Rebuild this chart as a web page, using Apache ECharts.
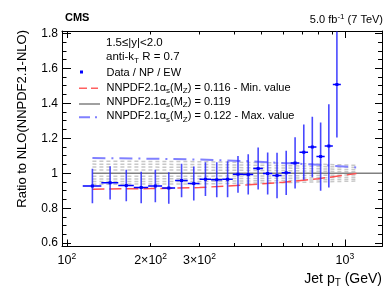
<!DOCTYPE html>
<html><head><meta charset="utf-8">
<script src="https://cdn.jsdelivr.net/npm/echarts@6/dist/echarts.min.js"></script>
<style>html,body{margin:0;padding:0;background:#fff}#c{width:390px;height:302px}</style>
</head><body><div id="c"></div>
<script>
// ---- data ----
const binLo = [114,133,153,174,196,220,245,272,300,330,362,395,430,468,507,548,592,638,686,737,790,846,905];
const binHi = [133,153,174,196,220,245,272,300,330,362,395,430,468,507,548,592,638,686,737,790,846,905,967];
const dataRatio = [0.927,0.945,0.930,0.918,0.927,0.916,0.958,0.941,0.966,0.962,0.966,0.994,0.993,1.027,0.998,0.987,1.002,1.059,1.120,1.150,1.095,1.156,1.507];
const dataErr = [0.099,0.095,0.090,0.090,0.093,0.090,0.096,0.097,0.097,0.100,0.103,0.105,0.115,0.120,0.120,0.130,0.126,0.146,0.158,0.173,0.195,0.238,0.303];

const thPt = [123.5,200,300,450,600,800,1100];
const thMin = [0.909,0.912,0.918,0.934,0.948,0.968,0.998];   // alpha_s = 0.116
const thMax = [1.087,1.083,1.078,1.069,1.058,1.049,1.033];   // alpha_s = 0.122
const thCentralPt = [123.5,1360];
const thCentral = [1.0,1.0];                                 // alpha_s = 0.119
const thGreyPt = [123.5,300,600,1100];
const thG1 = [1.069,1.066,1.058,1.045];
const thG2 = [1.052,1.050,1.044,1.033];
const thG3 = [1.036,1.034,1.030,1.020];
const thG4 = [1.019,1.018,1.015,1.008];
const thG5 = [0.983,0.983,0.985,0.990];
const thG6 = [0.967,0.968,0.971,0.977];
const thG7 = [0.952,0.953,0.958,0.966];
const thG8 = [0.937,0.939,0.946,0.955];

const xLabelVals = [100,200,300,1000];
const xLabelText = ['{n|10}{sup|2}','{n|2×10}{sup|2}','{n|3×10}{sup|2}','{n|10}{sup|3}'];
const xMajorTicks = [100,1000];
const xMinorTicks = [200,300,400,500,600,700,800,900];
const yMajorTicks = [0.6,0.8,1.0,1.2,1.4,1.6,1.8];
const yMinorTicks = [0.65,0.7,0.75,0.85,0.9,0.95,1.05,1.1,1.15,1.25,1.3,1.35,1.45,1.5,1.55,1.65,1.7,1.75];

// ---- chart ----
const L = Math.log10;
const FONT = 'Liberation Sans';
const X_MIN = 96, X_MAX = 1360, Y_MIN = 0.581, Y_MAX = 1.813;
const chart = echarts.init(document.getElementById('c'), null, {renderer:'canvas'});

function xa(pos, ticks, len, extra) {
  return Object.assign({
    type:'value', position:pos, min:L(X_MIN), max:L(X_MAX),
    axisLine:{show:false}, splitLine:{show:false}, axisLabel:{show:false},
    axisTick:{show:true, inside:true, length:len, customValues:ticks.map(L), lineStyle:{color:'#000', width:1}}
  }, extra || {});
}
function ya(pos, ticks, len, extra) {
  return Object.assign({
    type:'value', position:pos, min:Y_MIN, max:Y_MAX,
    axisLine:{show:false}, splitLine:{show:false}, axisLabel:{show:false},
    axisTick:{show:true, inside:true, length:len, customValues:ticks, lineStyle:{color:'#000', width:1}}
  }, extra || {});
}
const lineBlack = {show:true, onZero:false, lineStyle:{color:'#000', width:1}};

const xAxes = [
  xa('bottom', xMajorTicks, 7, {axisLine:lineBlack, axisLabel:{
    show:true, customValues:xLabelVals.map(L), margin:6, color:'#000',
    formatter:(v)=>{let b=0,d=1e9;xLabelVals.forEach((p,i)=>{const dd=Math.abs(L(p)-v);if(dd<d){d=dd;b=i;}});return xLabelText[b];},
    rich:{n:{fontFamily:FONT,fontSize:12.5,color:'#000'}, sup:{fontFamily:FONT,fontSize:8.5,color:'#000',padding:[0,0,8,0]}}
  }}),
  xa('bottom', xMinorTicks, 3.5),
  xa('top', xMajorTicks, 7, {axisLine:lineBlack}),
  xa('top', xMinorTicks, 3.5)
];
const yAxes = [
  ya('left', yMajorTicks, 9, {axisLine:lineBlack, axisLabel:{
    show:true, customValues:yMajorTicks, margin:4, color:'#000', fontFamily:FONT, fontSize:12,
    formatter:(v)=> Math.abs(v-1)<1e-6 ? '1' : v.toFixed(1)
  }}),
  ya('left', yMinorTicks, 4.5),
  ya('right', yMajorTicks, 7, {axisLine:lineBlack}),
  ya('right', yMinorTicks, 4)
];

function lineSeries(pts, vals, color, width, type, z) {
  return {type:'line', xAxisIndex:0, yAxisIndex:0, data:pts.map((p,i)=>[L(p), vals[i]]),
    symbol:'none', silent:true, z:z, lineStyle:{color:color, width:width, type:type}};
}
const greyDash = [4,3];
const series = [
  lineSeries(thGreyPt, thG1, '#c8c8c8', 1.5, greyDash, 1),
  lineSeries(thGreyPt, thG2, '#c8c8c8', 1.5, greyDash, 1),
  lineSeries(thGreyPt, thG3, '#c8c8c8', 1.5, greyDash, 1),
  lineSeries(thGreyPt, thG4, '#c8c8c8', 1.5, greyDash, 1),
  lineSeries(thGreyPt, thG5, '#c8c8c8', 1.5, greyDash, 1),
  lineSeries(thGreyPt, thG6, '#c8c8c8', 1.5, greyDash, 1),
  lineSeries(thGreyPt, thG7, '#c8c8c8', 1.5, greyDash, 1),
  lineSeries(thGreyPt, thG8, '#c8c8c8', 1.5, greyDash, 1),
  lineSeries(thCentralPt, thCentral, '#808080', 1.5, 'solid', 2),
  lineSeries(thPt, thMin, '#ff5050', 1.5, [12,5], 2),
  lineSeries(thPt, thMax, '#8080ff', 2, [13,6,2,6], 2),
  {
    type:'custom', xAxisIndex:0, yAxisIndex:0, z:5, clip:true, silent:true,
    data: dataRatio.map((r,i)=>[L((binLo[i]+binHi[i])/2), r, dataErr[i], L(binLo[i]), L(binHi[i])]),
    renderItem:(params, api)=>{
      const x=api.value(0), y=api.value(1), e=api.value(2), lo=api.value(3), hi=api.value(4);
      const c=api.coord([x,y]), t=api.coord([x,y+e]), b=api.coord([x,y-e]);
      const l=api.coord([lo,y]), h=api.coord([hi,y]);
      return {type:'group', children:[
        {type:'line', shape:{x1:t[0],y1:t[1],x2:b[0],y2:b[1]}, style:{stroke:'rgba(40,40,255,0.85)', lineWidth:1.6}},
        {type:'line', shape:{x1:l[0],y1:l[1],x2:h[0],y2:h[1]}, style:{stroke:'#0000ff', lineWidth:1.5}},
        {type:'rect', shape:{x:c[0]-1.5,y:c[1]-1.5,width:3,height:3}, style:{fill:'#0000ff'}}
      ]};
    }
  }
];

const richSub = {
  n:{fontFamily:FONT,fontSize:11,color:'#000'},
  sub:{fontFamily:FONT,fontSize:8,color:'#000',padding:[7,0,0,0]},
  sup:{fontFamily:FONT,fontSize:8,color:'#000',padding:[0,0,7,0]}
};
function txt(x,y,text,extra){
  return {type:'text', x:x, y:y, silent:true, z:10,
    style:Object.assign({text:text, fill:'#000', font:'11px '+FONT, verticalAlign:'middle', align:'left', rich:richSub}, extra||{})};
}
const graphic = [
  txt(65,18,'CMS',{font:'bold 11px '+FONT}),
  txt(383,20,'{n|5.0 fb}{sup|-1}{n| (7 TeV)}',{align:'right'}),
  txt(106,43,'1.5≤|y|<2.0',{font:'11.5px '+FONT}),
  txt(106,57,'{m|anti-k}{msub|T}{m| R = 0.7}',{rich:{m:{fontFamily:FONT,fontSize:11.5,color:'#000'},msub:{fontFamily:FONT,fontSize:8,color:'#000',padding:[7,0,0,0]}}}),
  {type:'rect', shape:{x:80,y:70.5,width:3,height:3}, style:{fill:'#0000ff'}, silent:true, z:10},
  txt(106.5,72.5,'Data / NP / EW'),
  {type:'line', shape:{x1:79,y1:88.3,x2:98,y2:88.3}, style:{stroke:'#ff6060',lineWidth:1.5,lineDash:[8,4]}, silent:true, z:10},
  txt(106.5,87.5,'{n|NNPDF2.1α}{sub|s}{n|(M}{sub|Z}{n|) = 0.116 - Min. value}'),
  {type:'line', shape:{x1:79,y1:104,x2:100,y2:104}, style:{stroke:'#808080',lineWidth:1.5}, silent:true, z:10},
  txt(106.5,101.5,'{n|NNPDF2.1α}{sub|s}{n|(M}{sub|Z}{n|) = 0.119}'),
  {type:'line', shape:{x1:79,y1:117.3,x2:98,y2:117.3}, style:{stroke:'#8080ff',lineWidth:2,lineDash:[11,5,2,5]}, silent:true, z:10},
  txt(106.5,116,'{n|NNPDF2.1α}{sub|s}{n|(M}{sub|Z}{n|) = 0.122 - Max. value}'),
  {type:'text', x:22, y:30, rotation:Math.PI/2, silent:true, z:10,
    style:{text:'Ratio to NLO(NNPDF2.1-NLO)', fill:'#000', font:'13px '+FONT, align:'right', verticalAlign:'middle'}},
  txt(382,279,'{x|Jet p}{xs|T}{x| (GeV)}',{align:'right',rich:{x:{fontFamily:FONT,fontSize:14,color:'#000'},xs:{fontFamily:FONT,fontSize:10,color:'#000',padding:[9,0,0,0]}}})
];

chart.setOption({
  animation:false,
  backgroundColor:'#fff',
  grid:{left:62, right:8, top:31, height:215.5, containLabel:false},
  xAxis:xAxes, yAxis:yAxes, series:series, graphic:graphic
});
</script></body></html>
